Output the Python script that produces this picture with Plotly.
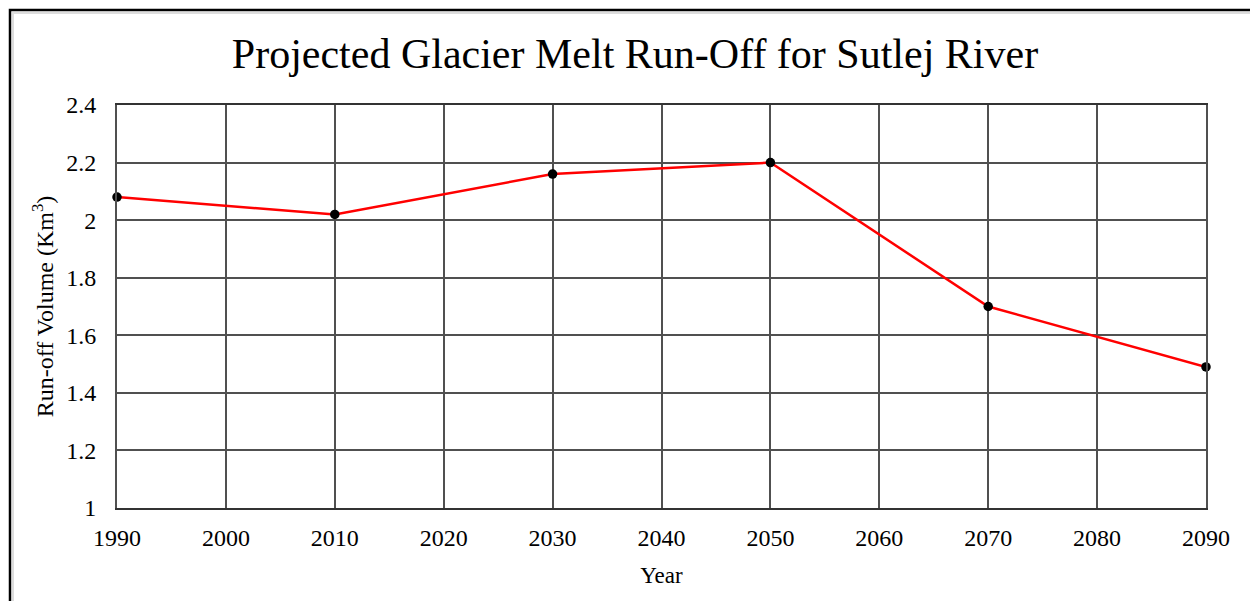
import plotly.graph_objects as go

years = [1990, 2010, 2030, 2050, 2070, 2090]
runoff = [2.08, 2.02, 2.16, 2.20, 1.70, 1.49]
x_ticks = [1990, 2000, 2010, 2020, 2030, 2040, 2050, 2060, 2070, 2080, 2090]
y_ticks = [1, 1.2, 1.4, 1.6, 1.8, 2, 2.2, 2.4]
y_tick_text = ["1", "1.2", "1.4", "1.6", "1.8", "2", "2.2", "2.4"]

W, H = 1250, 601
ML, MR, MT, MB = 117, 44, 105, 93
PW, PH = W - ML - MR, H - MT - MB

def px(x):
    return (x - ML) / PW

def py(y):
    return (H - MB - y) / PH

serif = "Liberation Serif, Times New Roman, serif"
grid = "#505050"

fig = go.Figure()
fig.add_trace(go.Scatter(
    x=years, y=runoff, mode="lines+markers",
    line=dict(color="#ff0000", width=2.5),
    marker=dict(color="black", size=9.5),
    cliponaxis=False, showlegend=False,
))

fig.update_layout(
    width=W, height=H,
    margin=dict(l=ML, r=MR, t=MT, b=MB),
    paper_bgcolor="white", plot_bgcolor="white",
    font=dict(family=serif, color="black"),
    title=dict(text="Projected Glacier Melt Run-Off for Sutlej River",
               x=0.508, xanchor="center", y=1 - 53 / H, yanchor="middle",
               font=dict(size=42, family=serif, color="black")),
    xaxis=dict(range=[1990, 2090], tickvals=x_ticks, ticks="",
               showgrid=True, gridcolor=grid, gridwidth=1.5,
               showline=True, linecolor="#333333", linewidth=2, mirror=True,
               zeroline=False, tickfont=dict(size=24), ticklabelstandoff=7,
               title=dict(text="Year", font=dict(size=23), standoff=17)),
    yaxis=dict(range=[1, 2.4], tickvals=y_ticks, ticktext=y_tick_text, ticks="",
               showgrid=True, gridcolor=grid, gridwidth=1.5,
               showline=True, linecolor=grid, linewidth=2, mirror=True,
               zeroline=False, tickfont=dict(size=24), ticklabelstandoff=14,
               title=dict(text="Run-off Volume (Km<sup>3</sup>)", font=dict(size=24), standoff=6)),
    shapes=[
        dict(type="rect", xref="paper", yref="paper", layer="below",
             x0=px(13), x1=px(1262), y0=py(13), y1=py(620),
             line=dict(color="#dddddd", width=2)),
        dict(type="rect", xref="paper", yref="paper", layer="above",
             x0=px(10), x1=px(1262), y0=py(10), y1=py(620),
             line=dict(color="black", width=2.5)),
    ],
)

fig.write_html("out.html")
